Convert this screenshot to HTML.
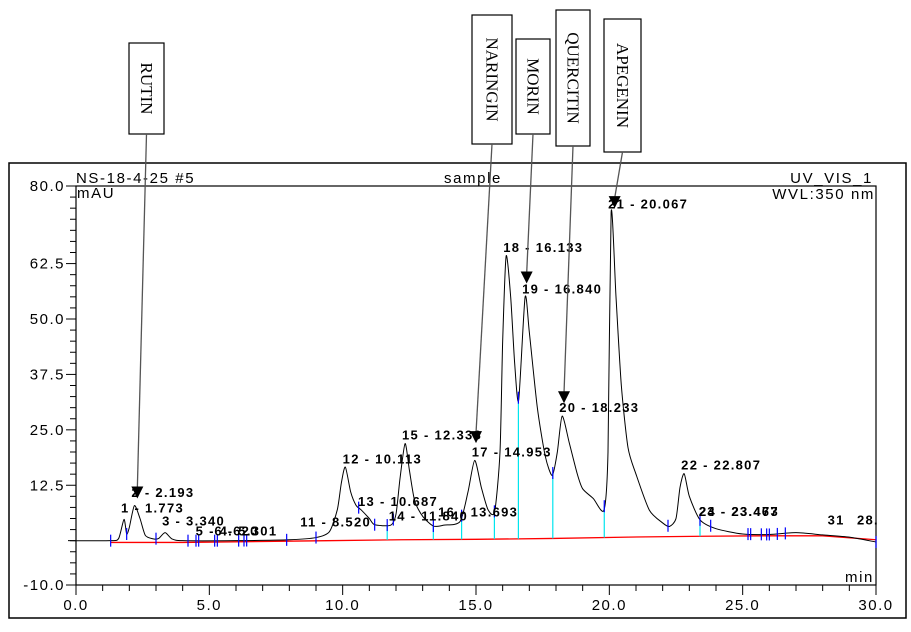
<!DOCTYPE html>
<html><head><meta charset="utf-8">
<style>
html,body{margin:0;padding:0;background:#fff;width:911px;height:632px;overflow:hidden}
svg{display:block}
.tk{font-family:"Liberation Sans",sans-serif;font-size:15px;fill:#000;letter-spacing:1.5px}
.pk{font-family:"Liberation Sans",sans-serif;font-size:13px;font-weight:bold;fill:#000;letter-spacing:1.3px}
.hd{font-family:"Liberation Sans",sans-serif;font-size:15px;fill:#000;letter-spacing:1.6px}
.bx{font-family:"Liberation Serif",serif;font-size:17px;fill:#000}
</style></head><body>
<svg id="chart" width="911" height="632" xmlns="http://www.w3.org/2000/svg">
<rect x="9" y="163" width="897" height="455" fill="none" stroke="#000" stroke-width="1.5"/>
<g id="axes"></g><g id="marks"></g><g id="labels"></g><g id="annot"></g>
</svg>
<script>
// ---- data ----
const traceTimes = [-0.3,1.3,1.6,1.8,1.9,2.0,2.19,2.4,2.6,2.9,3.1,3.34,3.6,4.0,6.0,8.0,9.0,9.5,9.8,9.95,10.1,10.3,10.5,10.7,11.0,11.2,11.8,12.0,12.15,12.34,12.5,12.7,13.0,13.4,13.8,14.4,14.7,14.95,15.2,15.45,15.7,15.9,16.0,16.13,16.3,16.45,16.6,16.84,17.0,17.3,17.6,17.86,18.05,18.23,18.5,18.8,19.0,19.4,19.8,19.95,20.067,20.25,20.45,20.7,21.0,21.5,22.0,22.25,22.5,22.65,22.807,23.0,23.4,24.0,25.0,26.0,27.0,28.0,29.0,30.0];
const traceValues = [0,0,0.5,4.8,1.5,3,7.9,5,1.2,0.4,0.5,1.8,0.4,0,0,0.2,0.7,2,7,13,16.6,11,8,6.9,5,3.6,3.5,6,14,21.9,16,9,5.5,3.3,3.5,4.3,11,18.1,12,7,6.6,20,45,64.2,55,40,31.7,54.9,47,30,19,14.7,20,28.1,22,15,11.7,9.5,6.9,20,74,55,35,21,15,6.9,4,3.2,5,12,15.1,10,4.7,2.7,1.5,1.4,1.8,1.3,0.8,-0.3];
const baseTimes = [1.3,4.0,9.4,12.2,15.0,17.9,20.7,23.5,25.8,28.0,30.0];
const baseValues = [-0.4,-0.4,0,0.2,0.3,0.5,0.8,1.0,1.1,1.1,0.2];
const dropTimes = [11.67,13.4,14.46,15.69,16.59,17.88,19.81,23.4];
const tickTimes = [1.3,1.9,3.0,4.2,4.5,4.6,5.2,5.3,6.1,6.3,6.4,7.9,9.0,10.6,11.2,11.67,11.9,13.4,14.46,15.69,16.59,17.88,19.81,22.2,23.4,23.8,25.2,25.3,25.7,25.9,26.0,26.3,26.6,30.0];
const peakLabels = ["1 - 1.773","2 - 2.193","3 - 3.340","5 - 4.620","6 - 5.301","11 - 8.520","12 - 10.113","13 - 10.687","14 - 11.840","15 - 12.338","16 - 13.693","17 - 14.953","18 - 16.133","19 - 16.840","20 - 18.233","21 - 20.067","22 - 22.807","24 - 23.473","23 - 23.467","31","28."];
const labelTimes = [1.8,2.19,3.34,4.6,5.3,8.52,10.113,10.687,11.84,12.338,13.693,14.953,16.133,16.84,18.233,20.067,22.807,23.473,23.467,28.3,29.4];
const labelValues = [5.5,9,2.5,0.3,0.3,2.3,16.5,6.9,3.6,21.9,4.5,18.1,64.2,54.9,28.1,74,15.1,4.7,4.7,2.7,2.7];
const yTicks = [-10.0,12.5,25.0,37.5,50.0,62.5,80.0];
const xTicks = [0.0,5.0,10.0,15.0,20.0,25.0,30.0];
const compounds = ["RUTIN","NARINGIN","MORIN","QUERCITIN","APEGENIN"];
const compoundTimes = [2.3,15.0,16.9,18.3,20.2];
const compoundTipValues = [9.5,22,58,31,75];

// ---- axes ----
const X0=76,X1=876,Y0=186,Y1=585,XMIN=0,XMAX=30,YMAX=80,YMIN=-10;
const xs=t=>X0+(t-XMIN)/(XMAX-XMIN)*(X1-X0);
const ys=v=>Y0+(YMAX-v)/(YMAX-YMIN)*(Y1-Y0);
const NS="http://www.w3.org/2000/svg";
function mk(tag,attrs,parent,txt){const e=document.createElementNS(NS,tag);for(const k in attrs)e.setAttribute(k,attrs[k]);if(txt!==undefined)e.textContent=txt;parent.appendChild(e);return e;}
const axes=document.getElementById('axes'),marks=document.getElementById('marks'),labels=document.getElementById('labels'),annot=document.getElementById('annot');

let e=mk('rect',{x:X0,y:Y0,width:X1-X0,height:Y1-Y0,fill:'none',stroke:'#000','stroke-width':1.2},axes);


for(let v=-10;v<=80;v+=2.5){const big=yTicks.includes(v);e=mk('line',{x1:big?X0-10:X0-6,x2:X0,y1:ys(v),y2:ys(v),stroke:'#000'},axes);

}
yTicks.forEach(v=>{e=mk('text',{x:X0-11,y:ys(v)+5,'text-anchor':'end',class:'tk'},axes,v.toFixed(1));

});
for(let t=0;t<=30;t+=1){const big=t%5===0;e=mk('line',{x1:xs(t),x2:xs(t),y1:Y1,y2:Y1+(big?10:6),stroke:'#000'},axes);

}
xTicks.forEach(t=>{e=mk('text',{x:xs(t),y:Y1+25,'text-anchor':'middle',class:'tk'},axes,t.toFixed(1));

});
e=mk('text',{x:76,y:183,class:'hd'},axes,'NS-18-4-25 #5');
e=mk('text',{x:473,y:183,'text-anchor':'middle',class:'hd'},axes,'sample');
e=mk('text',{x:873,y:183,'text-anchor':'end',class:'hd'},axes,'UV_VIS_1');
e=mk('text',{x:77,y:198,class:'hd'},axes,'mAU');
e=mk('text',{x:875,y:199,'text-anchor':'end',class:'hd'},axes,'WVL:350 nm');
e=mk('text',{x:874,y:582,'text-anchor':'end',class:'hd'},axes,'min');

// baseline (red)
e=mk('polyline',{points:baseTimes.map((t,i)=>xs(t)+','+ys(baseValues[i])).join(' '),fill:'none',stroke:'#f00','stroke-width':1.3},marks);


function interp(ts,vs,t){for(let i=1;i<ts.length;i++){if(t<=ts[i]){const f=(t-ts[i-1])/(ts[i]-ts[i-1]);return vs[i-1]+f*(vs[i]-vs[i-1]);}}return vs[vs.length-1];}
dropTimes.forEach(t=>{e=mk('line',{x1:xs(t),x2:xs(t),y1:ys(interp(baseTimes,baseValues,t)),y2:ys(interp(traceTimes,traceValues,t)),stroke:'#00e5ee','stroke-width':1.2},marks);

});
// trace (smoothed Catmull-Rom)
const P=traceTimes.map((t,i)=>[xs(t),ys(traceValues[i])]);
let d='M'+P[0][0]+','+P[0][1];
for(let i=0;i<P.length-1;i++){const p0=P[Math.max(0,i-1)],p1=P[i],p2=P[i+1],p3=P[Math.min(P.length-1,i+2)];const k=0.12;
d+=` C${p1[0]+(p2[0]-p0[0])*k},${p1[1]+(p2[1]-p0[1])*k} ${p2[0]-(p3[0]-p1[0])*k},${p2[1]-(p3[1]-p1[1])*k} ${p2[0]},${p2[1]}`;}
e=mk('path',{d:d,fill:'none',stroke:'#000','stroke-width':1,'stroke-linejoin':'round'},marks);


tickTimes.forEach(t=>{const y=ys(interp(traceTimes,traceValues,t));e=mk('line',{x1:xs(t),x2:xs(t),y1:y-6,y2:y+6,stroke:'#00f','stroke-width':1.2},marks);

});
// peak labels
peakLabels.forEach((s,i)=>{e=mk('text',{x:xs(labelTimes[i])-3,y:ys(labelValues[i])-4,class:'pk'},labels,s);

});
// compound annotation boxes
const boxGeom=[[129,43,35,91],[472,15,40,129],[516,39,34,95],[556,10,34,136],[604,19,37,133]];
compounds.forEach((c,i)=>{const g=boxGeom[i];
e=mk('rect',{x:g[0],y:g[1],width:g[2],height:g[3],fill:'#fff',stroke:'#000','stroke-width':1.2},annot);


const cx=g[0]+g[2]/2,cy=g[1]+g[3]/2;
e=mk('text',{x:cx,y:cy,'text-anchor':'middle','dominant-baseline':'central',class:'bx',transform:`rotate(90 ${cx} ${cy})`},annot,c);


const tx=xs(compoundTimes[i]),ty=ys(compoundTipValues[i]);
e=mk('line',{x1:cx,y1:g[1]+g[3],x2:tx,y2:ty-10,stroke:'#555','stroke-width':1.3},annot);


e=mk('polygon',{points:`${tx-6},${ty-12} ${tx+6},${ty-12} ${tx},${ty}`,fill:'#000'},annot);

});
</script>
</body></html>
